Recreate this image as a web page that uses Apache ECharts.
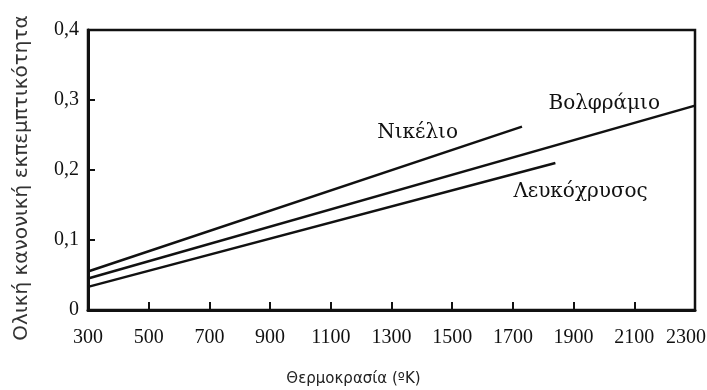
<!DOCTYPE html>
<html>
<head>
<meta charset="utf-8">
<script src="https://cdn.jsdelivr.net/npm/echarts@6/dist/echarts.min.js"></script>
<style>
  html, body { margin: 0; padding: 0; background: #fff; }
  #chart { width: 707px; height: 390px; }
</style>
</head>
<body>
<div id="chart"></div>
<script>
// Total normal emissivity of three metals versus temperature
const tempTicks = [300, 500, 700, 900, 1100, 1300, 1500, 1700, 1900, 2100, 2300];
const nickel = [[300, 0.055], [1730, 0.262]];
const tungsten = [[300, 0.045], [2300, 0.292]];
const platinum = [[300, 0.033], [1840, 0.210]];
const seriesNames = ['Νικέλιο', 'Βολφράμιο', 'Λευκόχρυσος'];

const serif = '"Liberation Serif", "DejaVu Serif", serif';
const wideSerif = '"DejaVu Serif", "Liberation Serif", serif';
const sans = '"DejaVu Sans", sans-serif';
const chart = echarts.init(document.getElementById('chart'));
const lastTick = tempTicks[tempTicks.length - 1];

function lineSeries(name, data, labelCfg) {
  return {
    name: name,
    type: 'line',
    data: data,
    showSymbol: false,
    silent: true,
    lineStyle: { color: '#111', width: 2.5 },
    endLabel: Object.assign({
      show: true,
      formatter: name,
      fontFamily: wideSerif,
      fontSize: 20,
      color: '#111',
      distance: 0,
      verticalAlign: 'middle'
    }, labelCfg)
  };
}

chart.setOption({
  animation: false,
  backgroundColor: '#fff',
  grid: {
    left: 88, right: 12, top: 30, bottom: 80,
    outerBoundsMode: 'none',
    containLabel: false,
    show: true, borderColor: '#111', borderWidth: 2.5
  },
  xAxis: {
    type: 'value',
    min: 300, max: 2300,
    name: 'Θερμοκρασία (ºK)',
    nameLocation: 'middle',
    nameGap: 62,
    nameTextStyle: { fontFamily: sans, fontSize: 15, color: '#222', padding: [0, 76, 0, 0] },
    axisLine: { show: true, lineStyle: { color: '#111', width: 3 } },
    axisTick: { show: true, inside: true, length: 8, customValues: tempTicks, lineStyle: { color: '#111', width: 2 } },
    axisLabel: {
      customValues: tempTicks, fontFamily: serif, fontSize: 20, color: '#111', margin: 18,
      // the last label sits tucked in against the right edge
      formatter: v => (v === lastTick ? '{edge|' + v + '}' : String(v)),
      rich: {
        edge: { fontFamily: serif, fontSize: 20, color: '#111', padding: [0, 18, 0, 0] }
      }
    },
    splitLine: { show: false }
  },
  yAxis: {
    type: 'value',
    min: 0, max: 0.4, interval: 0.1,
    name: 'Ολική κανονική εκπεμπτικότητα',
    nameLocation: 'middle',
    nameGap: 56,
    nameRotate: 90,
    nameTextStyle: { fontFamily: sans, fontSize: 20, color: '#333', padding: [0, 16, 0, 0] },
    axisLine: { show: true, lineStyle: { color: '#111', width: 3 } },
    axisTick: { show: true, inside: true, length: 7, lineStyle: { color: '#111', width: 2 } },
    axisLabel: {
      fontFamily: serif, fontSize: 20, color: '#111', margin: 9,
      formatter: v => (v === 0 ? '0' : v.toFixed(1).replace('.', ','))
    },
    splitLine: { show: false }
  },
  series: [
    lineSeries(seriesNames[0], nickel, { align: 'right', offset: [-64, 6] }),
    lineSeries(seriesNames[1], tungsten, { align: 'right', offset: [-35, -2] }),
    lineSeries(seriesNames[2], platinum, { align: 'left', offset: [-42, 29] })
  ]
});
</script>
</body>
</html>
